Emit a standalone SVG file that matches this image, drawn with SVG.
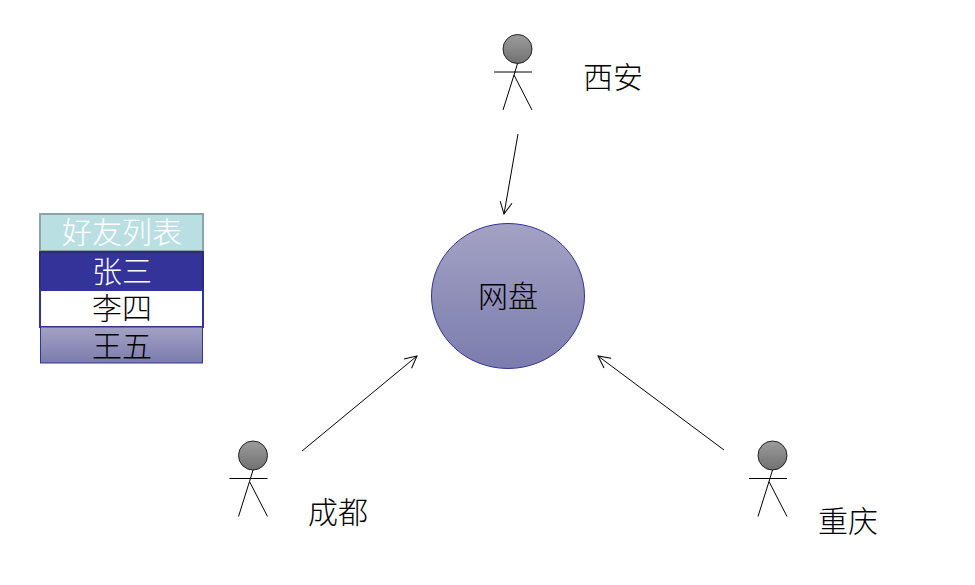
<svg xmlns="http://www.w3.org/2000/svg" width="975" height="585" viewBox="0 0 975 585">
<style>
text{font-family:"Noto Sans CJK SC","Noto Sans CJK TC",sans-serif;font-size:30px;font-weight:300;text-anchor:middle;fill:#000}
.w{fill:#fff}
.l{stroke:#000;stroke-width:1;fill:none}
.a{stroke:#000;stroke-width:1;fill:none;marker-end:url(#arr)}
.h{fill:url(#hg);stroke:#222;stroke-width:1}
</style>
<defs>
<linearGradient id="hg" x1="0" y1="0" x2="0" y2="1"><stop offset="0" stop-color="#9c9c9c"/><stop offset="1" stop-color="#717171"/></linearGradient>
<linearGradient id="bg" x1="0" y1="0" x2="0" y2="1"><stop offset="0" stop-color="#a3a2c4"/><stop offset="1" stop-color="#7c7cae"/></linearGradient>
<marker id="arr" viewBox="0 0 14 14" refX="13" refY="7" markerWidth="14" markerHeight="14" markerUnits="userSpaceOnUse" orient="auto"><path d="M1 1L13 7L1 13" fill="none" stroke="#000" stroke-width="1"/></marker>
<g id="actor"><circle class="h" cx="0" cy="14" r="14.500"/><path class="l" d="M0 28.500L-3.500 40L-14.500 75M-3.500 40L14.500 75M-23.500 37H14.500"/></g>
</defs>
<g id="connectors">
<line class="a" x1="518" y1="134" x2="504" y2="214"/>
<line class="a" x1="302" y1="451" x2="417" y2="356"/>
<line class="a" x1="724" y1="450" x2="598" y2="356"/>
</g>
<g id="friend-list">
<rect x="40" y="214" width="163" height="37" fill="#b9dfe2" stroke="#8ea5a6" stroke-width="2"/>
<text class="w" x="122" y="243">好友列表</text>
<rect x="40" y="252" width="163" height="38" fill="#333399" stroke="#2b2b80" stroke-width="2"/>
<text class="w" x="122" y="282">张三</text>
<rect x="40" y="290" width="163" height="37" fill="#fff" stroke="#333399" stroke-width="2"/>
<text x="122" y="319">李四</text>
<rect x="40.500" y="327" width="162" height="36" fill="url(#bg)" stroke="#333399" stroke-width="1"/>
<text x="122" y="357">王五</text>
</g>
<g id="disk">
<ellipse cx="508" cy="296" rx="76.500" ry="72.500" fill="url(#bg)" stroke="#333399" stroke-width="1"/>
<text x="508" y="307">网盘</text>
</g>
<g id="xian"><use href="#actor" x="517.500" y="35"/><text x="613" y="88">西安</text></g>
<g id="chengdu"><use href="#actor" x="253" y="441.500"/><text x="338" y="523">成都</text></g>
<g id="chongqing"><use href="#actor" x="772.500" y="441.500"/><text x="848" y="532">重庆</text></g>
</svg>
